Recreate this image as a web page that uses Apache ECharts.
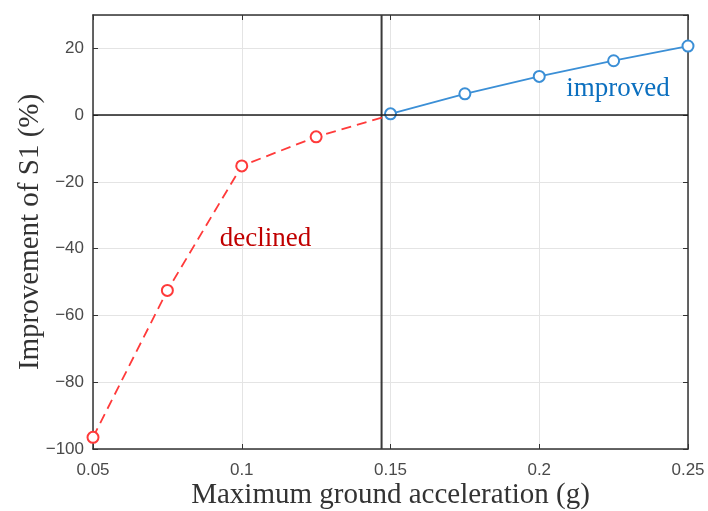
<!DOCTYPE html>
<html lang="en">
<head>
  <meta charset="UTF-8">
  <title>Improvement of S1</title>
  <script src="https://cdn.jsdelivr.net/npm/echarts@6/dist/echarts.min.js"></script>
  <style>
    html, body { margin: 0; padding: 0; background: #fff; }
    #chart { width: 708px; height: 511px; }
  </style>
</head>
<body>
<div id="chart"></div>
<script>
  // values
  const declinedX = [0.05, 0.075, 0.1, 0.125, 0.15];
  const declinedY = [-96.5, -52.5, -15.2, -6.5, 0];
  const improvedX = [0.15, 0.175, 0.2, 0.225, 0.25];
  const improvedY = [0.4, 6.4, 11.6, 16.3, 20.7];
  const thresholdX = 0.147;
  const notes = [
    { text: 'declined', at: [0.108, -37], color: '#c00000' },
    { text: 'improved', at: [0.2265, 7.8], color: '#0b6fbf' }
  ];

  const tickFont = { fontFamily: 'Liberation Sans, Arial, sans-serif', fontSize: 17, color: '#4a4a4a' };
  const titleFont = { fontFamily: 'Liberation Serif, Times New Roman, serif', fontSize: 29, color: '#333' };
  const boxLine = { show: true, onZero: false, lineStyle: { color: '#333', width: 1.5 } };
  const inTick = { show: true, inside: true, length: 5, lineStyle: { color: '#333' } };
  const gridLine = { show: true, lineStyle: { color: '#e4e4e4', width: 1 } };

  const chart = echarts.init(document.getElementById('chart'));

  // last red point has no marker (blue one sits there)
  const redData = declinedX.map((x, i) => {
    const p = { value: [x, declinedY[i]] };
    if (i === declinedX.length - 1) p.symbol = 'none';
    return p;
  });
  const blueData = improvedX.map((x, i) => [x, improvedY[i]]);

  chart.setOption({
    animation: false,
    grid: { left: 93, right: 20, top: 15, bottom: 62, containLabel: false, outerBoundsMode: 'none' },
    xAxis: [{
      type: 'value', min: 0.05, max: 0.25, interval: 0.05,
      name: 'Maximum ground acceleration (g)',
      nameLocation: 'middle', nameGap: 32, nameMoveOverlap: false, nameTextStyle: titleFont,
      axisLine: boxLine, axisTick: inTick, splitLine: gridLine,
      axisLabel: Object.assign({ margin: 13, formatter: v => String(Math.round(v * 1000) / 1000) }, tickFont)
    }, {
      type: 'value', position: 'top', min: 0.05, max: 0.25, interval: 0.05,
      axisLine: boxLine, axisTick: inTick, splitLine: { show: false }, axisLabel: { show: false }
    }],
    yAxis: [{
      type: 'value', min: -100, max: 30, interval: 20,
      name: 'Improvement of S1 (%)',
      nameLocation: 'middle', nameGap: 48, nameMoveOverlap: false, nameTextStyle: titleFont,
      axisLine: boxLine, axisTick: inTick, splitLine: gridLine,
      axisLabel: Object.assign({
        margin: 9, showMaxLabel: false,
        formatter: v => v === 30 ? '' : String(v).replace('-', '\u2212')
      }, tickFont)
    }, {
      type: 'value', position: 'right', min: -100, max: 30, interval: 20,
      axisLine: boxLine, axisTick: inTick, splitLine: { show: false }, axisLabel: { show: false }
    }],
    series: [{
      // vertical threshold line
      type: 'line',
      data: [[thresholdX, -100], [thresholdX, 30]],
      symbol: 'none',
      silent: true,
      lineStyle: { color: '#3a3a3a', width: 2 },
      z: 2
    }, {
      type: 'line',
      data: redData,
      symbol: 'emptyCircle',
      symbolSize: 11,
      itemStyle: { color: '#ff3a3a', borderWidth: 1.5 },
      lineStyle: { color: '#ff3a3a', width: 1.8, type: [10, 6] },
      markLine: {
        silent: true,
        symbol: ['none', 'none'],
        label: { show: false },
        data: [
          { yAxis: 0, lineStyle: { color: '#1e1e1e', width: 1.5, type: 'solid' } }
        ]
      },
      z: 3
    }, {
      type: 'line',
      data: blueData,
      symbol: 'emptyCircle',
      symbolSize: 11,
      itemStyle: { color: '#3b8fd6', borderWidth: 1.5 },
      lineStyle: { color: '#3b8fd6', width: 1.8 },
      z: 4
    }]
  });

  chart.setOption({
    graphic: notes.map(n => {
      const p = chart.convertToPixel({ gridIndex: 0 }, n.at);
      return {
        type: 'text', x: p[0], y: p[1],
        style: {
          text: n.text, fill: n.color,
          font: '27px "Liberation Serif", "Times New Roman", serif',
          textAlign: 'center', textVerticalAlign: 'middle'
        }
      };
    })
  });
</script>
</body>
</html>
